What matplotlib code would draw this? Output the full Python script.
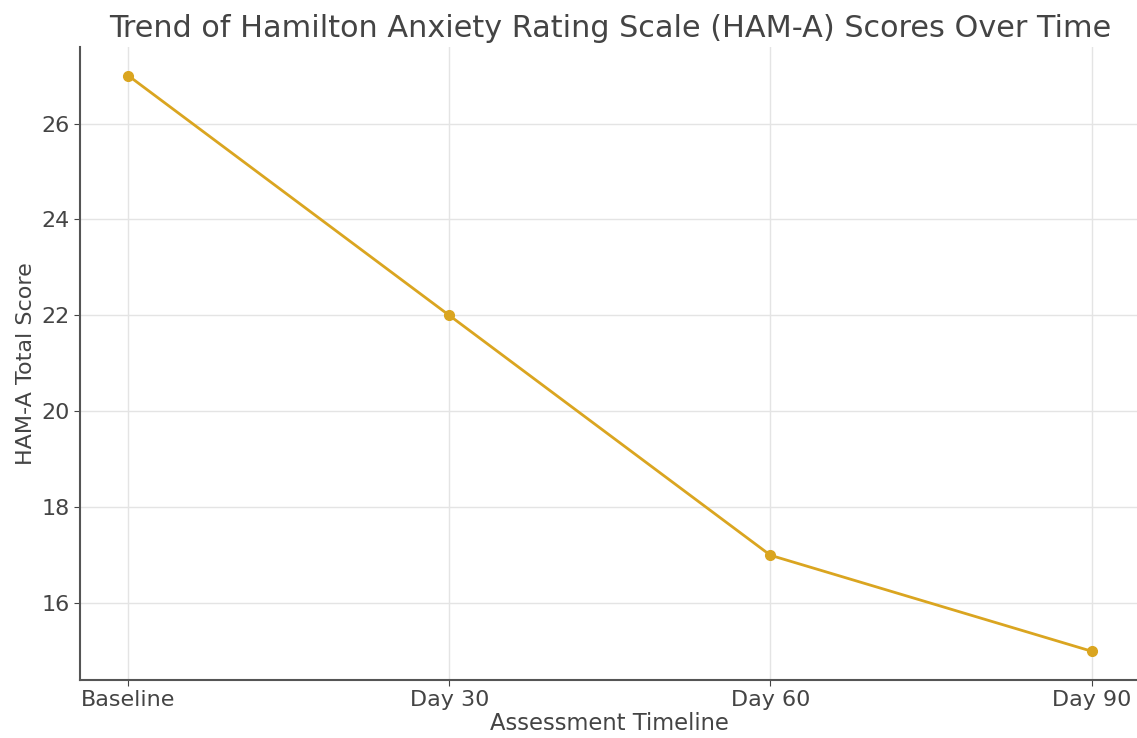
import matplotlib
matplotlib.use("Agg")
import matplotlib.pyplot as plt

timepoints = ["Baseline", "Day 30", "Day 60", "Day 90"]
scores = [27, 22, 17, 15]

plt.rcParams['font.family'] = ['DejaVu Sans']
fig = plt.figure(figsize=(11.37, 7.38), dpi=100)
ax = fig.add_axes([0.0704, 0.0786, 0.932, 0.858])

ax.plot(timepoints, scores, color='#DAA520', linewidth=2, marker='o', markersize=7, zorder=3)

ax.set_title("Trend of Hamilton Anxiety Rating Scale (HAM-A) Scores Over Time",
             fontsize=21.8, color='#444444', pad=7)
ax.set_xlabel("Assessment Timeline", fontsize=16.3, color='#444444', labelpad=1)
ax.set_ylabel("HAM-A Total Score", fontsize=16, color='#444444')
ax.set_yticks([16, 18, 20, 22, 24, 26])
ax.tick_params(axis='both', labelsize=16, colors='#444444', length=4)
ax.grid(True, color='#e4e4e4', linewidth=1)
ax.set_axisbelow(True)
for s in ['top', 'right']:
    ax.spines[s].set_visible(False)
for s in ['left', 'bottom']:
    ax.spines[s].set_color('#555555')
    ax.spines[s].set_linewidth(1.5)

fig.savefig("out.png", dpi=100)
